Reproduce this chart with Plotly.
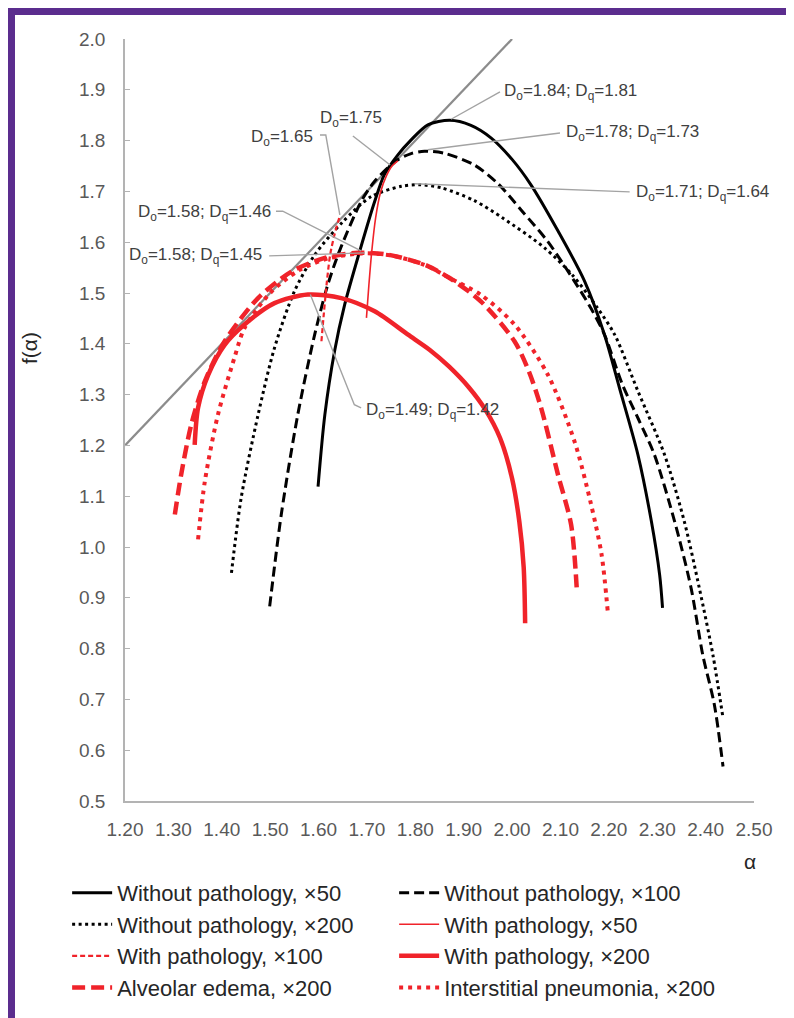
import plotly.graph_objects as go

FONT = "Liberation Sans Narrow, Arial Narrow, Liberation Sans, Arial, sans-serif"
RED = "#f0232a"

# multifractal spectra f(alpha)
a_wo50 = [1.599, 1.613, 1.633, 1.654, 1.685, 1.716, 1.736, 1.764, 1.790, 1.826, 1.871, 1.915,
          1.957, 2.000, 2.039, 2.095, 2.150, 2.191, 2.222, 2.260, 2.288, 2.305, 2.311]
f_wo50 = [1.119, 1.260, 1.385, 1.477, 1.582, 1.680, 1.733, 1.772, 1.800, 1.831, 1.840, 1.830,
          1.805, 1.763, 1.713, 1.622, 1.523, 1.418, 1.313, 1.182, 1.050, 0.945, 0.880]

a_wo100 = [1.499, 1.523, 1.557, 1.592, 1.619, 1.643, 1.688, 1.716, 1.760, 1.790, 1.819, 1.860,
           1.922, 1.971, 2.020, 2.074, 2.129, 2.163, 2.191, 2.228, 2.262, 2.294, 2.336, 2.370,
           2.394, 2.418, 2.436]
f_wo100 = [0.883, 1.064, 1.260, 1.418, 1.516, 1.582, 1.680, 1.720, 1.760, 1.774, 1.779, 1.775,
           1.752, 1.715, 1.662, 1.601, 1.523, 1.470, 1.418, 1.320, 1.250, 1.182, 1.050, 0.919,
           0.788, 0.690, 0.568]

a_wo200 = [1.420, 1.440, 1.475, 1.509, 1.550, 1.592, 1.650, 1.709, 1.771, 1.810, 1.854, 1.922,
           1.980, 2.067, 2.125, 2.177, 2.212, 2.260, 2.315, 2.356, 2.387, 2.415, 2.436]
f_wo200 = [0.949, 1.096, 1.260, 1.392, 1.503, 1.575, 1.640, 1.690, 1.710, 1.713, 1.707, 1.682,
           1.648, 1.589, 1.535, 1.470, 1.418, 1.307, 1.182, 1.050, 0.919, 0.788, 0.663]

a_p50 = [1.699, 1.704, 1.710, 1.718, 1.728, 1.740, 1.752, 1.764]
f_p50 = [1.451, 1.515, 1.582, 1.648, 1.698, 1.730, 1.750, 1.760]

a_p100 = [1.606, 1.611, 1.617, 1.624, 1.633, 1.644]
f_p100 = [1.405, 1.460, 1.520, 1.575, 1.615, 1.652]

a_p200 = [1.344, 1.351, 1.372, 1.406, 1.447, 1.509, 1.578, 1.647, 1.716, 1.785, 1.830, 1.870,
          1.910, 1.945, 1.975, 2.000, 2.015, 2.024, 2.027]
f_p200 = [1.201, 1.274, 1.339, 1.398, 1.438, 1.480, 1.497, 1.490, 1.464, 1.418, 1.388, 1.355,
          1.315, 1.270, 1.215, 1.135, 1.050, 0.960, 0.850]

a_edema = [1.303, 1.316, 1.337, 1.365, 1.406, 1.475, 1.544, 1.613, 1.681, 1.740, 1.819, 1.870,
           1.936, 2.005, 2.035, 2.060, 2.095, 2.122, 2.134]
f_edema = [1.064, 1.142, 1.241, 1.326, 1.405, 1.490, 1.542, 1.569, 1.579, 1.576, 1.556, 1.530,
           1.483, 1.405, 1.345, 1.274, 1.142, 1.044, 0.913]

a_pneu = [1.351, 1.365, 1.392, 1.426, 1.447, 1.500, 1.560, 1.620, 1.690, 1.750, 1.820, 1.870,
          1.936, 2.005, 2.074, 2.129, 2.163, 2.185, 2.198]
f_pneu = [1.015, 1.129, 1.260, 1.372, 1.431, 1.500, 1.545, 1.568, 1.578, 1.574, 1.555, 1.530,
          1.496, 1.438, 1.339, 1.208, 1.085, 0.985, 0.870]

# f(alpha) = alpha reference line
line_a = [1.2, 2.0]

x_ticks = [1.2 + 0.1 * i for i in range(14)]
y_ticks = [0.5 + 0.1 * i for i in range(16)]

# callouts: text, text position, anchor, leader path (alpha, f)
callouts = [
    ("D<sub>o</sub>=1.84; D<sub>q</sub>=1.81", 1.979, 1.896, "left",
     [(1.975, 1.896), (1.874, 1.842)]),
    ("D<sub>o</sub>=1.78; D<sub>q</sub>=1.73", 2.107, 1.815, "left",
     [(2.099, 1.815), (1.826, 1.782)]),
    ("D<sub>o</sub>=1.71; D<sub>q</sub>=1.64", 2.252, 1.697, "left",
     [(2.243, 1.699), (1.799, 1.715)]),
    ("D<sub>o</sub>=1.75", 1.667, 1.843, "center",
     [(1.671, 1.809), (1.748, 1.752)]),
    ("D<sub>o</sub>=1.65", 1.592, 1.806, "right",
     [(1.603, 1.811), (1.615, 1.811), (1.644, 1.654)]),
    ("D<sub>o</sub>=1.58; D<sub>q</sub>=1.46", 1.505, 1.657, "right",
     [(1.512, 1.661), (1.526, 1.661), (1.688, 1.583)]),
    ("D<sub>o</sub>=1.58; D<sub>q</sub>=1.45", 1.488, 1.573, "right",
     [(1.498, 1.573), (1.696, 1.579)]),
    ("D<sub>o</sub>=1.49; D<sub>q</sub>=1.42", 1.694, 1.268, "left",
     [(1.688, 1.274), (1.674, 1.280), (1.583, 1.497)]),
]

fig = go.Figure()

fig.add_trace(go.Scatter(x=line_a, y=line_a, mode="lines", showlegend=False,
                         line=dict(color="#8c8c8c", width=2.2), hoverinfo="skip"))

series = [
    ("Without pathology, ×50", a_wo50, f_wo50, "black", 3, "solid"),
    ("Without pathology, ×100", a_wo100, f_wo100, "black", 3, "10px,5px"),
    ("Without pathology, ×200", a_wo200, f_wo200, "black", 3, "3px,3.5px"),
    ("With pathology, ×50", a_p50, f_p50, RED, 1.6, "solid"),
    ("With pathology, ×100", a_p100, f_p100, RED, 2.2, "5px,3px"),
    ("With pathology, ×200", a_p200, f_p200, RED, 4.5, "solid"),
    ("Alveolar edema, ×200", a_edema, f_edema, RED, 4.5, "13px,6px"),
    ("Interstitial pneumonia, ×200", a_pneu, f_pneu, RED, 4, "4px,5px"),
]
for name, a, f, col, w, dash in series:
    fig.add_trace(go.Scatter(x=a, y=f, mode="lines", name=name,
                             line=dict(color=col, width=w, dash=dash, shape="spline", smoothing=0.8)))

for text, tx, ty, anchor, path in callouts:
    d = "M " + " L ".join(f"{px},{py}" for px, py in path)
    fig.add_shape(type="path", path=d, xref="x", yref="y",
                  line=dict(color="#a3a3a3", width=1.4))
    fig.add_annotation(x=tx, y=ty, text=text, showarrow=False, xanchor=anchor,
                       yanchor="middle", font=dict(family=FONT, size=17, color="#404040"))

# axis titles
fig.add_annotation(x=-0.152, y=0.595, xref="paper", yref="paper", text="f(α)", textangle=-90,
                   xanchor="center", yanchor="middle", showarrow=False,
                   font=dict(family=FONT, size=21, color="#262626"))
fig.add_annotation(x=0.993, y=-0.079, xref="paper", yref="paper", text="α",
                   xanchor="center", yanchor="middle", showarrow=False,
                   font=dict(family=FONT, size=21, color="#262626"))

# purple frame round the whole picture
W, H, L, R, T, B = 794, 1018, 117, 48, 31, 225
pw, ph = W - L - R, H - T - B
fig.add_shape(type="rect", xref="paper", yref="paper",
              x0=(3.5 - L) / pw, x1=(W - 3.5 - L) / pw,
              y0=(H - B - (H - 3.5)) / ph, y1=(H - B - 3.5) / ph,
              line=dict(color="#5b2d8e", width=7))

fig.update_layout(
    width=W, height=H,
    margin=dict(l=L, r=R, t=T, b=B),
    plot_bgcolor="white", paper_bgcolor="white",
    font=dict(family=FONT, color="#404040"),
    legend=dict(orientation="h", x=-0.092, y=-0.093, xanchor="left", yanchor="top",
                entrywidth=272, entrywidthmode="pixels", itemwidth=40,
                font=dict(family=FONT, size=22, color="#262626"), tracegroupgap=0),
    xaxis=dict(range=[1.2, 2.5], tickvals=x_ticks, tickformat=".2f", showgrid=False,
               zeroline=False, showline=True, linecolor="#b3b3b3", linewidth=1.5,
               ticks="", tickfont=dict(family=FONT, size=19, color="#595959"),
               ticklabelstandoff=10),
    yaxis=dict(range=[0.5, 2.0], tickvals=y_ticks, tickformat=".1f", showgrid=False,
               zeroline=False, showline=True, linecolor="#b3b3b3", linewidth=1.5,
               ticks="inside", ticklen=5, tickcolor="#b3b3b3",
               tickfont=dict(family=FONT, size=19, color="#595959"),
               ticklabelstandoff=14),
)

fig.write_html("out.html")
